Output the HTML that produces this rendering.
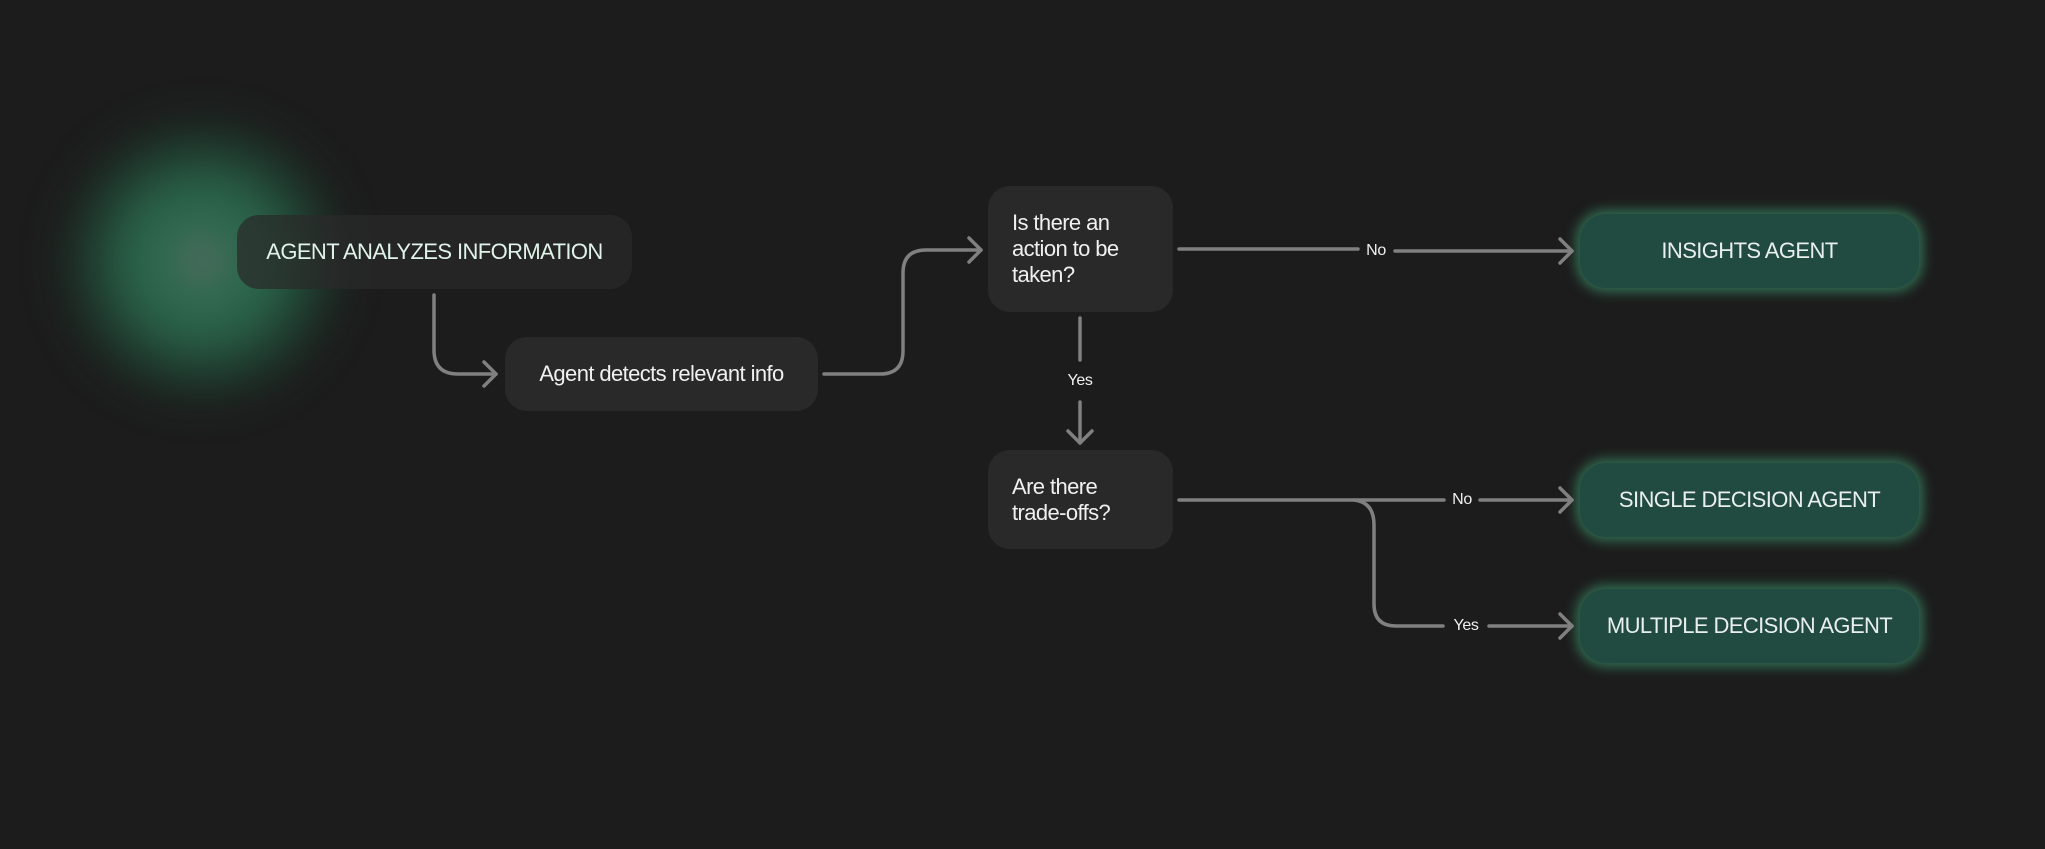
<!DOCTYPE html>
<html><head><meta charset="utf-8"><style>
body{margin:0;width:2045px;height:849px;background:#1c1c1c;overflow:hidden;position:relative;font-family:"Liberation Sans",sans-serif;}
.glow{position:absolute;left:52px;top:111px;width:300px;height:300px;border-radius:50%;filter:blur(18px);
background:radial-gradient(circle,#5f6a64 0%,#2f6a50 16%,#2a6249 34%,rgba(32,78,56,0.55) 55%,rgba(28,28,28,0) 72%);}
.box{position:absolute;background:rgba(42,42,42,0.92);border-radius:22px;color:#f0f0f0;font-size:22px;letter-spacing:-0.6px;display:flex;align-items:center;box-sizing:border-box;}
.c{justify-content:center;}
.q{padding-left:24px;line-height:26px;}
.g{background:#214a40;box-shadow:0 0 12px 4px rgba(70,180,130,0.55);border-radius:26px;color:#e8efec;justify-content:center;font-size:22px;}
svg{position:absolute;left:0;top:0;}
.lbl{position:absolute;color:#f0f0f0;font-size:16px;letter-spacing:-0.4px;transform:translate(-50%,-50%);}
</style></head><body>
<div class="glow"></div>
<div class="box c" style="left:237px;top:215px;width:395px;height:74px;color:#dff3ea;background:rgba(42,42,42,0.72);">AGENT ANALYZES INFORMATION</div>
<div class="box c" style="left:505px;top:337px;width:313px;height:74px;">Agent detects relevant info</div>
<div class="box q" style="left:988px;top:186px;width:185px;height:126px;">Is there an<br>action to be<br>taken?</div>
<div class="box q" style="left:988px;top:450px;width:185px;height:99px;">Are there<br>trade-offs?</div>
<div class="box g" style="left:1580px;top:214px;width:339px;height:74px;">INSIGHTS AGENT</div>
<div class="box g" style="left:1580px;top:463px;width:339px;height:74px;">SINGLE DECISION AGENT</div>
<div class="box g" style="left:1580px;top:589px;width:339px;height:74px;">MULTIPLE DECISION AGENT</div>
<svg width="2045" height="849" fill="none" stroke="#808080" stroke-width="3.5" stroke-linecap="round" stroke-linejoin="round">
<path d="M434 295 V350 Q434 374 458 374 H496"/>
<path d="M484 362 L496 374 L484 386"/>
<path d="M824 374 H880 Q903 374 903 351 V273 Q903 250 926 250 H981"/>
<path d="M969 238 L981 250 L969 262"/>
<path d="M1080 318 V360"/>
<path d="M1080 402 V443"/>
<path d="M1068 431 L1080 443 L1092 431"/>
<path d="M1179 249 H1358"/>
<path d="M1395 251 H1572"/>
<path d="M1560 239 L1572 251 L1560 263"/>
<path d="M1179 500 H1444"/>
<path d="M1480 500 H1572"/>
<path d="M1560 488 L1572 500 L1560 512"/>
<path d="M1354 500 Q1374 502 1374 525 V604 Q1374 626 1396 626 H1443"/>
<path d="M1489 626 H1572"/>
<path d="M1560 614 L1572 626 L1560 638"/>
</svg>
<div class="lbl" style="left:1080px;top:381px;">Yes</div>
<div class="lbl" style="left:1376px;top:251px;">No</div>
<div class="lbl" style="left:1462px;top:500px;">No</div>
<div class="lbl" style="left:1466px;top:626px;">Yes</div>
</body></html>
